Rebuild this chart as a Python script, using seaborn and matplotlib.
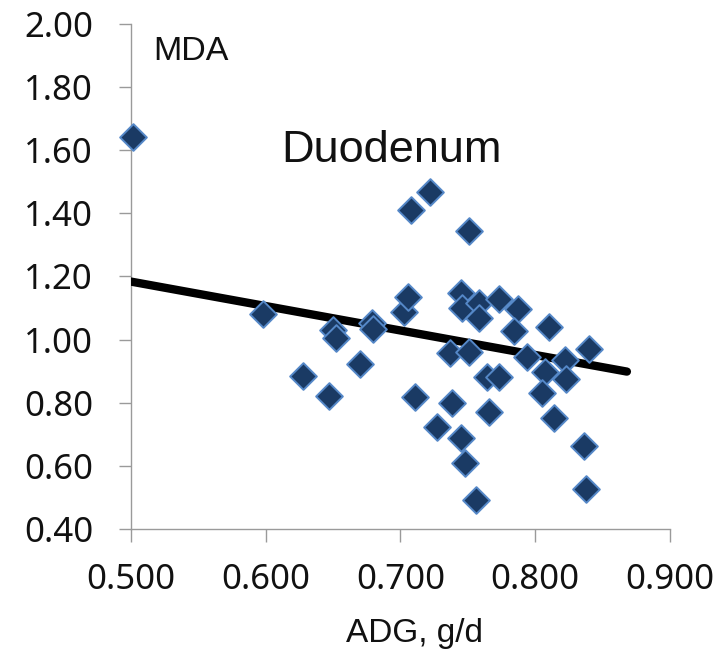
import matplotlib
matplotlib.use("Agg")
import matplotlib.pyplot as plt
import seaborn as sns
import numpy as np
import pandas as pd

# ADG (g/d) vs MDA values
adg = [0.502, 0.598, 0.628, 0.647, 0.650, 0.652, 0.670, 0.679, 0.680,
       0.703, 0.706, 0.711, 0.708, 0.722, 0.751,
       0.745, 0.746, 0.758, 0.758, 0.773, 0.787, 0.784, 0.810,
       0.737, 0.751, 0.794, 0.822, 0.840,
       0.764, 0.773, 0.807, 0.823, 0.805,
       0.738, 0.766, 0.727, 0.814, 0.745, 0.836, 0.748, 0.756, 0.838]
mda = [1.641, 1.080, 0.885, 0.823, 1.031, 1.004, 0.923, 1.052, 1.033,
       1.089, 1.136, 0.820, 1.410, 1.468, 1.345,
       1.149, 1.099, 1.117, 1.068, 1.128, 1.096, 1.028, 1.041,
       0.959, 0.962, 0.944, 0.936, 0.971,
       0.883, 0.883, 0.899, 0.875, 0.832,
       0.801, 0.770, 0.725, 0.751, 0.688, 0.664, 0.609, 0.493, 0.527]

# Linear trend line (as drawn in the reference)
trend_x = [0.500, 0.868]
trend_y = [1.184, 0.899]

x_ticks = [0.5, 0.6, 0.7, 0.8, 0.9]
y_ticks = [0.4, 0.6, 0.8, 1.0, 1.2, 1.4, 1.6, 1.8, 2.0]

sns.set_theme(style="white")
plt.rcParams['font.family'] = ['Noto Sans', 'DejaVu Sans']

fig = plt.figure(figsize=(7.24, 6.51), dpi=100)
ax = fig.add_axes([0.1805, 0.187, 0.745, 0.7766])

df = pd.DataFrame({"ADG": adg, "MDA": mda})
tr = pd.DataFrame({"x": trend_x, "y": trend_y})

sns.lineplot(data=tr, x="x", y="y", ax=ax, color="black", linewidth=6,
             solid_capstyle="round", zorder=3)
sns.scatterplot(data=df, x="ADG", y="MDA", ax=ax, marker="D", s=185,
                color="#1a3a64", edgecolor="#5588c8", linewidth=1.4, zorder=4,
                clip_on=False)

ax.set_xlim(0.5, 0.9)
ax.set_ylim(0.4, 2.0)
ax.set_xticks(x_ticks)
ax.set_yticks(y_ticks)
ax.set_xticklabels([f"{v:.3f}" for v in x_ticks])
ax.set_yticklabels([f"{v:.2f}" for v in y_ticks])

for s in ["top", "right"]:
    ax.spines[s].set_visible(False)
for s in ["left", "bottom"]:
    ax.spines[s].set_color("#9a9a9a")
    ax.spines[s].set_linewidth(1.0)

ax.tick_params(axis="both", which="major", direction="out", length=9,
               width=1.0, color="#9a9a9a", labelsize=25, labelcolor="#111111",
               bottom=True, left=True)
ax.tick_params(axis="y", pad=18)
ax.tick_params(axis="x", pad=15)

ax.set_xlabel("ADG, g/d", fontsize=24, family="Liberation Sans", color="#111111")
ax.xaxis.set_label_coords(0.527, -0.175)
ax.set_ylabel("")

ax.text(0.041, 0.975, "MDA", transform=ax.transAxes, fontsize=24.5,
        family="Liberation Sans", color="#111111", ha="left", va="top")
ax.text(0.28, 0.75, "Duodenum", transform=ax.transAxes, fontsize=32.5,
        family="Liberation Sans", color="#111111", ha="left", va="center")

fig.savefig("out.png", dpi=100)
